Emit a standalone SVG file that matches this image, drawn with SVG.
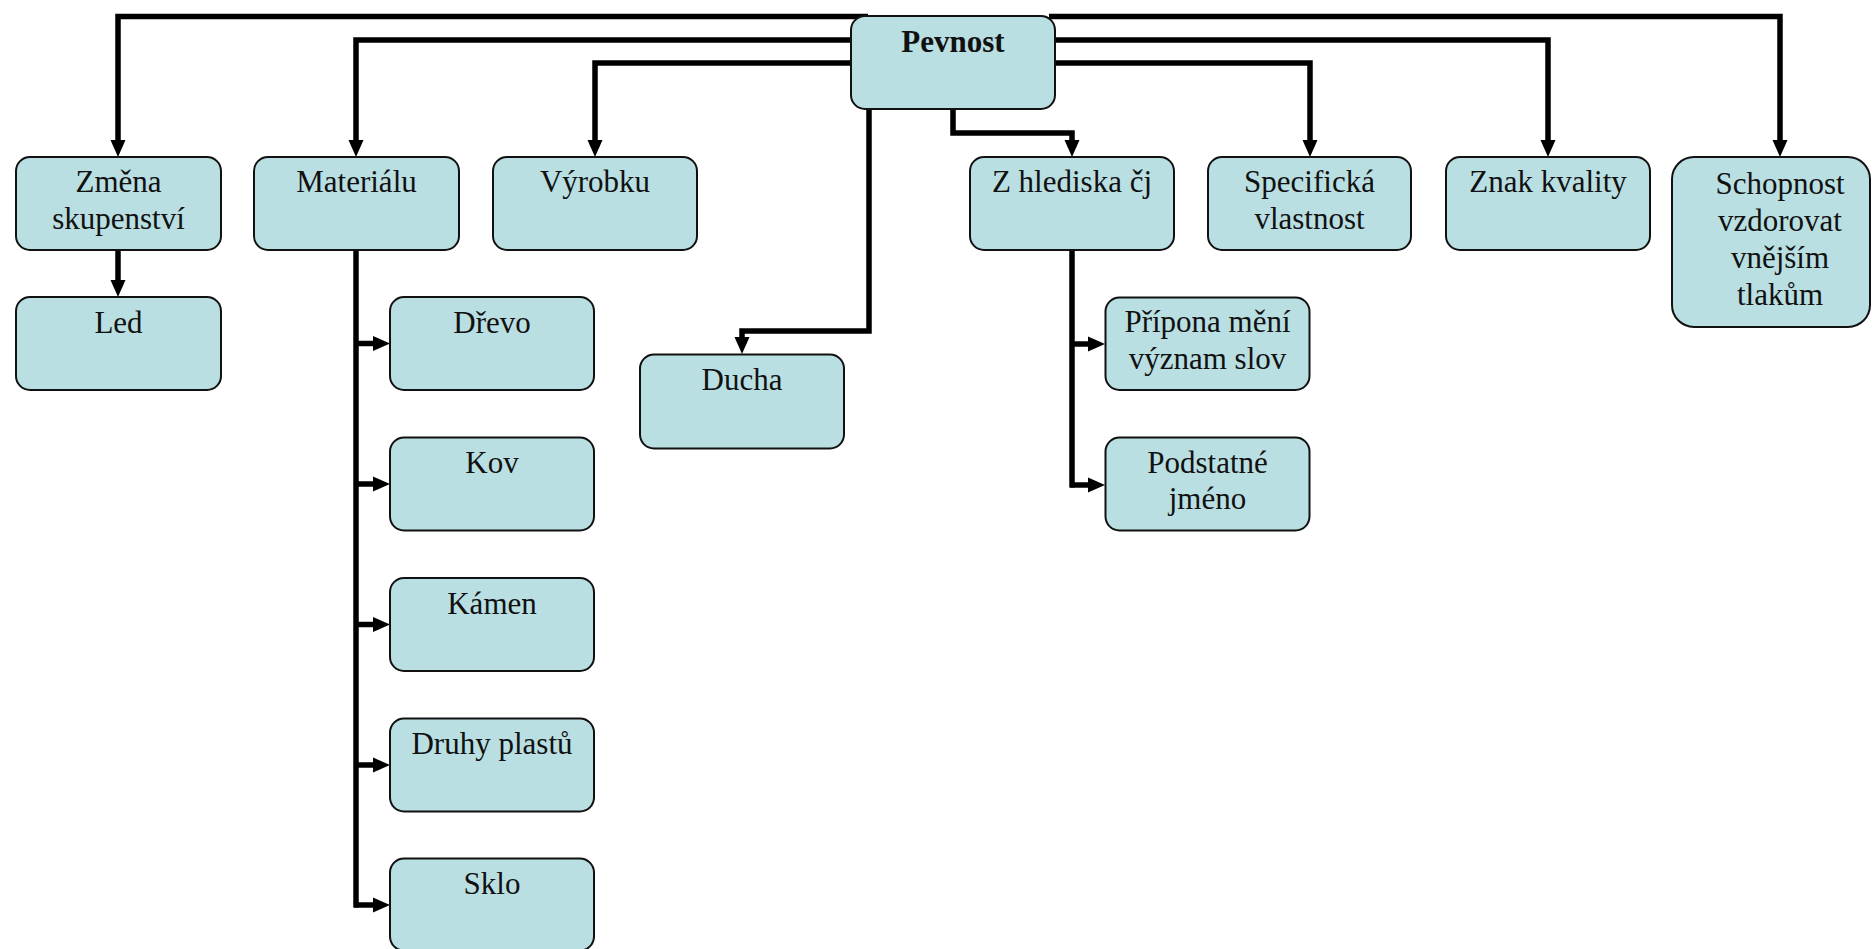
<svg xmlns="http://www.w3.org/2000/svg" width="1872" height="949" viewBox="0 0 1872 949">
  <style>
    .box { fill: #b9dfe2; stroke: #111; stroke-width: 2; }
    .lbl { font-family: "Liberation Serif", "Times New Roman", serif; font-size: 31px; fill: #111; text-anchor: middle; }
    .bold { font-weight: bold; }
    .link { fill: none; stroke: #000; stroke-width: 5.5; stroke-linejoin: miter; stroke-linecap: butt; }
  </style>
  <defs>
    <marker id="arrow" markerUnits="userSpaceOnUse" markerWidth="18" markerHeight="16" refX="0" refY="7.5" orient="auto" overflow="visible">
      <path d="M0,0 L17,7.5 L0,15 Z" fill="#000"/>
    </marker>
  </defs>

  <rect width="1872" height="949" fill="#fff"/>

  <!-- connectors -->
  <g id="connectors">
    <!-- root fan-out, left side -->
    <path class="link" marker-end="url(#arrow)" d="M868,16.5 H118 V140"/>
    <path class="link" marker-end="url(#arrow)" d="M852,40 H356 V140"/>
    <path class="link" marker-end="url(#arrow)" d="M852,63 H595 V140"/>
    <!-- root fan-out, right side -->
    <path class="link" marker-end="url(#arrow)" d="M1049,16.5 H1780 V140"/>
    <path class="link" marker-end="url(#arrow)" d="M1053,40 H1548 V140"/>
    <path class="link" marker-end="url(#arrow)" d="M1053,63 H1310 V140"/>
    <!-- root downward branches -->
    <path class="link" marker-end="url(#arrow)" d="M869,108 V331 H742 V337"/>
    <path class="link" marker-end="url(#arrow)" d="M953,108 V133 H1072 V140"/>
    <!-- Změna skupenství -> Led -->
    <path class="link" marker-end="url(#arrow)" d="M118,250 V280"/>
    <!-- Materiálu tree -->
    <path class="link" d="M356,250 V907.5"/>
    <path class="link" marker-end="url(#arrow)" d="M354,343.5 H373"/>
    <path class="link" marker-end="url(#arrow)" d="M354,484 H373"/>
    <path class="link" marker-end="url(#arrow)" d="M354,624.5 H373"/>
    <path class="link" marker-end="url(#arrow)" d="M354,765 H373"/>
    <path class="link" marker-end="url(#arrow)" d="M354,905 H373"/>
    <!-- Z hlediska čj tree -->
    <path class="link" d="M1072,250 V487.5"/>
    <path class="link" marker-end="url(#arrow)" d="M1070,344 H1088"/>
    <path class="link" marker-end="url(#arrow)" d="M1070,485 H1088"/>
  </g>

  <!-- nodes -->
  <g id="pevnost">
    <rect class="box" x="851" y="16" width="204" height="93" rx="14"/>
    <text class="lbl bold" x="953" y="51.5">Pevnost</text>
  </g>
  <g id="zmena-skupenstvi">
    <rect class="box" x="16" y="157" width="205" height="93" rx="14"/>
    <text class="lbl" x="118.5" y="192">Změna</text>
    <text class="lbl" x="118.5" y="228.5">skupenství</text>
  </g>
  <g id="led">
    <rect class="box" x="16" y="297" width="205" height="93" rx="14"/>
    <text class="lbl" x="118.5" y="332.5">Led</text>
  </g>
  <g id="materialu">
    <rect class="box" x="254" y="157" width="205" height="93" rx="14"/>
    <text class="lbl" x="356.5" y="192">Materiálu</text>
  </g>
  <g id="drevo">
    <rect class="box" x="390" y="297" width="204" height="93" rx="14"/>
    <text class="lbl" x="492" y="332.5">Dřevo</text>
  </g>
  <g id="kov">
    <rect class="box" x="390" y="437.5" width="204" height="93" rx="14"/>
    <text class="lbl" x="492" y="473">Kov</text>
  </g>
  <g id="kamen">
    <rect class="box" x="390" y="578" width="204" height="93" rx="14"/>
    <text class="lbl" x="492" y="613.5">Kámen</text>
  </g>
  <g id="druhy-plastu">
    <rect class="box" x="390" y="718.5" width="204" height="93" rx="14"/>
    <text class="lbl" x="492" y="754">Druhy plastů</text>
  </g>
  <g id="sklo">
    <rect class="box" x="390" y="858.5" width="204" height="92" rx="14"/>
    <text class="lbl" x="492" y="894">Sklo</text>
  </g>
  <g id="vyrobku">
    <rect class="box" x="493" y="157" width="204" height="93" rx="14"/>
    <text class="lbl" x="595" y="192">Výrobku</text>
  </g>
  <g id="ducha">
    <rect class="box" x="640" y="354.5" width="204" height="94" rx="14"/>
    <text class="lbl" x="742" y="389.5">Ducha</text>
  </g>
  <g id="z-hlediska-cj">
    <rect class="box" x="970" y="157" width="204" height="93" rx="14"/>
    <text class="lbl" x="1072" y="192">Z hlediska čj</text>
  </g>
  <g id="pripona">
    <rect class="box" x="1105.5" y="297.5" width="204" height="92.5" rx="14"/>
    <text class="lbl" x="1207.5" y="332">Přípona mění</text>
    <text class="lbl" x="1207.5" y="368.5">význam slov</text>
  </g>
  <g id="podstatne-jmeno">
    <rect class="box" x="1105.5" y="437.5" width="204" height="93" rx="14"/>
    <text class="lbl" x="1207.5" y="472.5">Podstatné</text>
    <text class="lbl" x="1207.5" y="509">jméno</text>
  </g>
  <g id="specificka-vlastnost">
    <rect class="box" x="1208" y="157" width="203" height="93" rx="14"/>
    <text class="lbl" x="1309.5" y="192">Specifická</text>
    <text class="lbl" x="1309.5" y="228.5">vlastnost</text>
  </g>
  <g id="znak-kvality">
    <rect class="box" x="1446" y="157" width="204" height="93" rx="14"/>
    <text class="lbl" x="1548" y="192">Znak kvality</text>
  </g>
  <g id="schopnost">
    <rect class="box" x="1672" y="157" width="198" height="170" rx="22"/>
    <text class="lbl" x="1780" y="194">Schopnost</text>
    <text class="lbl" x="1780" y="231">vzdorovat</text>
    <text class="lbl" x="1780" y="268">vnějším</text>
    <text class="lbl" x="1780" y="305">tlakům</text>
  </g>
</svg>
